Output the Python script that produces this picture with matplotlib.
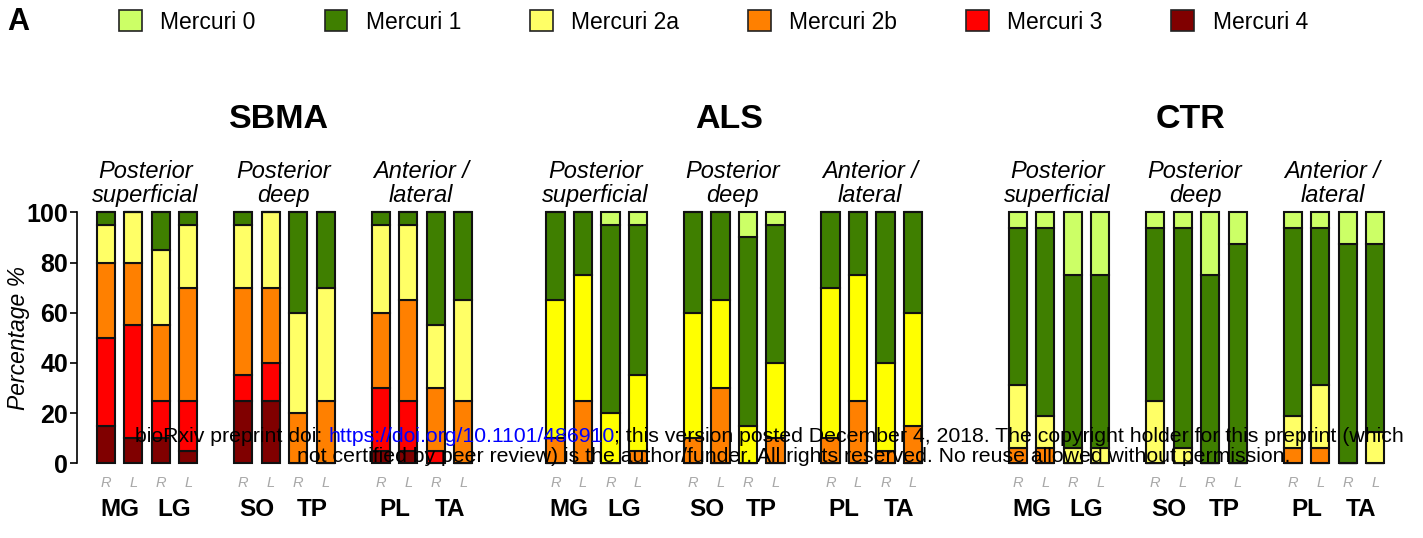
import matplotlib
matplotlib.use("Agg")
import matplotlib.pyplot as plt
from matplotlib.patches import Patch
import numpy as np

plt.rcParams['font.family'] = ['Liberation Sans', 'DejaVu Sans']

# bar order in every cohort: MG R, MG L, LG R, LG L, SO R, SO L, TP R, TP L, PL R, PL L, TA R, TA L
muscles = ["MG", "LG", "SO", "TP", "PL", "TA"]
sides = ["R", "L"]
regions = ["Posterior\nsuperficial", "Posterior\ndeep", "Anterior /\nlateral"]
cohorts = ["SBMA", "ALS", "CTR"]
grades = ["Mercuri 0", "Mercuri 1", "Mercuri 2a", "Mercuri 2b", "Mercuri 3", "Mercuri 4"]

# percentage of muscles per Mercuri grade
sbma_m0 = [0, 0, 0, 0, 0, 0, 0, 0, 0, 0, 0, 0]
sbma_m1 = [5, 0, 15, 5, 5, 0, 40, 30, 5, 5, 45, 35]
sbma_m2a = [15, 20, 30, 25, 25, 30, 40, 45, 35, 30, 25, 40]
sbma_m2b = [30, 25, 30, 45, 35, 30, 20, 25, 30, 40, 25, 25]
sbma_m3 = [35, 45, 15, 20, 10, 15, 0, 0, 25, 20, 5, 0]
sbma_m4 = [15, 10, 10, 5, 25, 25, 0, 0, 5, 5, 0, 0]

als_m0 = [0, 0, 5, 5, 0, 0, 10, 5, 0, 0, 0, 0]
als_m1 = [35, 25, 75, 60, 40, 35, 75, 55, 30, 25, 60, 40]
als_m2a = [55, 50, 20, 30, 50, 35, 15, 30, 60, 50, 35, 45]
als_m2b = [10, 25, 0, 5, 10, 30, 0, 10, 10, 25, 5, 15]
als_m3 = [0, 0, 0, 0, 0, 0, 0, 0, 0, 0, 0, 0]
als_m4 = [0, 0, 0, 0, 0, 0, 0, 0, 0, 0, 0, 0]

ctr_m0 = [6.25, 6.25, 25, 25, 6.25, 6.25, 25, 12.5, 6.25, 6.25, 12.5, 12.5]
ctr_m1 = [62.5, 75, 68.75, 68.75, 68.75, 87.5, 75, 87.5, 75, 62.5, 87.5, 75]
ctr_m2a = [25, 12.5, 6.25, 6.25, 25, 6.25, 0, 0, 12.5, 25, 0, 12.5]
ctr_m2b = [6.25, 6.25, 0, 0, 0, 0, 0, 0, 6.25, 6.25, 0, 0]
ctr_m3 = [0, 0, 0, 0, 0, 0, 0, 0, 0, 0, 0, 0]
ctr_m4 = [0, 0, 0, 0, 0, 0, 0, 0, 0, 0, 0, 0]

cohort_data = {
    "SBMA": [sbma_m4, sbma_m3, sbma_m2b, sbma_m2a, sbma_m1, sbma_m0],
    "ALS": [als_m4, als_m3, als_m2b, als_m2a, als_m1, als_m0],
    "CTR": [ctr_m4, ctr_m3, ctr_m2b, ctr_m2a, ctr_m1, ctr_m0],
}

# colours from bottom (Mercuri 4) to top (Mercuri 0)
colors_stack = ['#800000', '#FF0000', '#FF8000', '#FFFF66', '#3F7F00', '#CCFF66']
als_yellow = '#FFFF00'
legend_colors = ['#CCFF66', '#3F7F00', '#FFFF66', '#FF8000', '#FF0000', '#800000']

W, H = 1423, 538
fig = plt.figure(figsize=(W / 100, H / 100), dpi=100)

# axes geometry in pixels
x_left, x_right = 77, 1410
y_bot, y_top = 463.3, 212.3
step = 27.5       # px between neighbouring bars
first = 105.8     # px centre of first bar
ax = fig.add_axes([x_left / W, 1 - y_bot / H, (x_right - x_left) / W, (y_bot - y_top) / H])
ax.set_xlim((x_left - first) / step, (x_right - first) / step)
ax.set_ylim(0, 100)

slot = np.array([0, 1, 2, 3, 5, 6, 7, 8, 10, 11, 12, 13])
offsets = {"SBMA": 0, "ALS": 16.35, "CTR": 33.16}

major_pos, major_lab, minor_pos, minor_lab = [], [], [], []
for name in cohorts:
    xs = slot + offsets[name]
    bottom = np.zeros(12)
    for k, vals in enumerate(cohort_data[name]):
        col = colors_stack[k]
        if name == "ALS" and k == 3:
            col = als_yellow
        vals = np.array(vals, dtype=float)
        ax.bar(xs, vals, bottom=bottom, width=0.66, color=col,
               edgecolor='#111111', linewidth=1.5, clip_on=False)
        bottom += vals
    major_pos += list(xs)
    major_lab += sides * 6
    minor_pos += list((xs[0::2] + xs[1::2]) / 2)
    minor_lab += muscles
    mid = offsets[name] + 6.3
    ax.text(mid, 136.8, name, ha='center', va='center', fontsize=24.5, fontweight='bold')
    for g in range(3):
        gx = offsets[name] + 5 * g + 1.45
        ax.text(gx, 111.5, regions[g], ha='center', va='center', fontsize=17,
                style='italic', linespacing=1.05)

ax.set_xticks(major_pos)
ax.set_xticklabels(major_lab, fontsize=10.5, style='italic', color='#A8A8A8')
ax.set_xticks(minor_pos, minor=True)
ax.set_xticklabels(minor_lab, minor=True, fontsize=17.5, fontweight='bold')
ax.tick_params(axis='x', which='major', length=0, pad=9)
ax.tick_params(axis='x', which='minor', length=0, pad=25)

ax.set_yticks([0, 20, 40, 60, 80, 100])
ax.set_yticklabels(['0', '20', '40', '60', '80', '100'], fontsize=18, fontweight='bold')
ax.tick_params(axis='y', length=5, width=1.2, pad=1.5)
ax.set_ylabel('Percentage %', fontsize=16.5, style='italic')
ax.yaxis.set_label_coords((30 - x_left) / (x_right - x_left), 0.5)
for s in ['top', 'right', 'bottom']:
    ax.spines[s].set_visible(False)
ax.spines['left'].set_linewidth(1.2)

handles = [Patch(facecolor=c, edgecolor='#222222', linewidth=1.2) for c in legend_colors]
fig.legend(handles, grades, loc='center left', bbox_to_anchor=(110 / W, 1 - 22 / H),
           ncol=6, frameon=False, fontsize=16.5, handlelength=1.0, handleheight=1.0,
           handletextpad=0.8, columnspacing=3.0, borderaxespad=0)
fig.text(7 / W, 1 - 22 / H, 'A', fontsize=22, fontweight='bold', va='center', ha='left')

# bioRxiv watermark
renderer = fig.canvas.get_renderer()
x = 135 / W
for s, c in [("bioRxiv preprint doi: ", 'black'),
             ("https://doi.org/10.1101/486910", 'blue'),
             ("; this version posted December 4, 2018. The copyright holder for this preprint (which", 'black')]:
    t = fig.text(x, 1 - 437 / H, s, color=c, fontsize=15.3, va='center', ha='left')
    x = t.get_window_extent(renderer).x1 / W
fig.text(794 / W, 1 - 456 / H,
         "not certified by peer review) is the author/funder. All rights reserved. No reuse allowed without permission.",
         fontsize=15.3, va='center', ha='center')

fig.savefig('out.png', dpi=100)
